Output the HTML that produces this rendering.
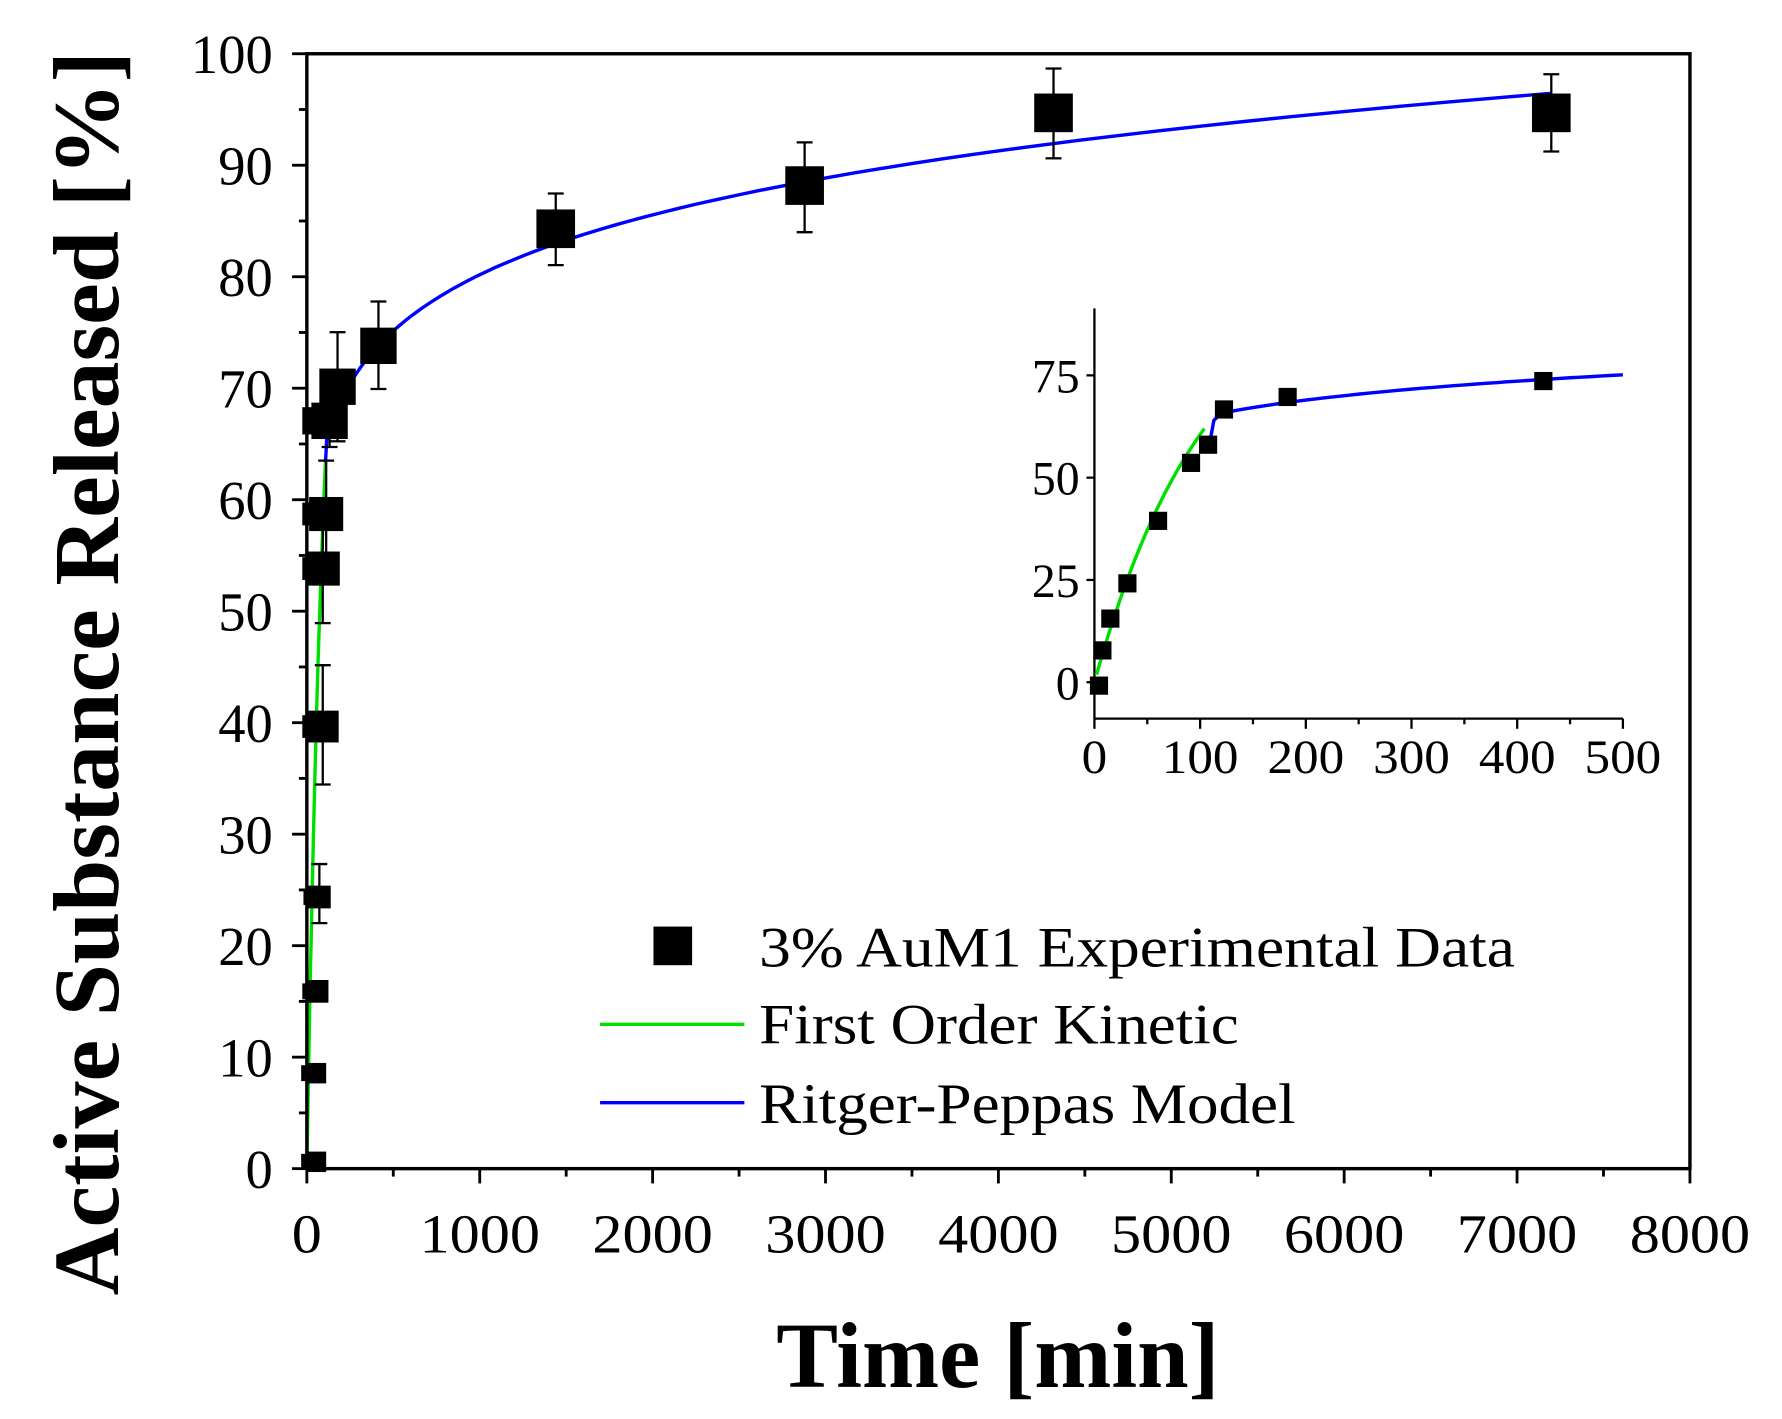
<!DOCTYPE html>
<html><head><meta charset="utf-8"><style>
html,body{margin:0;padding:0;background:#fff;}
svg{display:block;font-family:"Liberation Serif",serif;}
</style></head><body>
<svg id="s" width="1782" height="1419" viewBox="0 0 1568 1248" xmlns="http://www.w3.org/2000/svg">
<rect x="0" y="0" width="1568" height="1248" fill="#fff"/>
<g id="g"></g>
<rect x="270" y="47" width="1217" height="981" fill="none" stroke="#000" stroke-width="3"/>
<text transform="translate(104,592) rotate(-90)" text-anchor="middle" font-size="82" font-weight="bold" textLength="1095" lengthAdjust="spacingAndGlyphs">Active Substance Released [%]</text>
<text x="878" y="1220" text-anchor="middle" font-size="82" font-weight="bold" textLength="390" lengthAdjust="spacingAndGlyphs">Time [min]</text>
<rect x="575" y="815" width="34" height="34" fill="#000"/>
<text x="668" y="850" font-size="50" textLength="665" lengthAdjust="spacingAndGlyphs">3% AuM1 Experimental Data</text>
<line x1="528" y1="901" x2="655" y2="901" stroke="#00e000" stroke-width="3"/>
<text x="668" y="918" font-size="50" textLength="422" lengthAdjust="spacingAndGlyphs">First Order Kinetic</text>
<line x1="528" y1="970" x2="655" y2="970" stroke="#0000ff" stroke-width="3"/>
<text x="668" y="988" font-size="50" textLength="472" lengthAdjust="spacingAndGlyphs">Ritger-Peppas Model</text>
</svg>
<script>
var g=document.getElementById('g'),NS='http://www.w3.org/2000/svg';
function el(t,a,txt){var e=document.createElementNS(NS,t);for(var k in a)e.setAttribute(k,a[k]);if(txt!==undefined)e.textContent=txt;g.appendChild(e);return e;}
var X=function(t){return 270+t*(1217/8000)},Y=function(v){return 1028-v*9.81};
for(var v=0;v<=100;v+=5){var y=Y(v);el('line',{x1:v%10?263:257,y1:y,x2:270,y2:y,stroke:'#000','stroke-width':2.5});
 if(v%10==0)el('text',{x:240,y:y+17,'text-anchor':'end','font-size':48},v);}
for(var t=0;t<=8000;t+=500){var x=X(t);el('line',{x1:x,y1:1028,x2:x,y2:t%1000?1035:1041,stroke:'#000','stroke-width':2.5});
 if(t%1000==0)el('text',{x:x,y:1102,'text-anchor':'middle','font-size':48,textLength:(String(t).length*26.5),lengthAdjust:'spacingAndGlyphs'},t);}
function fo(t){return 100*(1-Math.exp(-0.0093*t));}
function rp(t){return 42*Math.pow(t,0.0936);}
var p='';for(var t=0;t<=108;t+=2)p+=(p?'L':'M')+X(t).toFixed(1)+','+Y(fo(t)).toFixed(1);
el('path',{d:p,fill:'none',stroke:'#00e000','stroke-width':3});
p='M'+X(108)+','+Y(fo(108));for(var t=115;t<=7200;t*=1.05)p+='L'+X(t).toFixed(1)+','+Y(rp(t)).toFixed(1);p+='L'+X(7200)+','+Y(rp(7200));
el('path',{d:p,fill:'none',stroke:'#0000ff','stroke-width':3});
var pts=[[278,1022,18],[272,1022,14],[278,944,18],[272,944,14],[279,872,20],[273,872,14],[281,789,20],[274,789,14],[284,639,28],[276,639,20],[284,500,30],[276,500,20],[287,452,30],[276,452,20],[290,370,32],[278,370,24],[297,340,32],[333,304,32],[489,201,34],[708,163,34],[927,99,34],[1365,99,34]];
var err=[[281,812,760],[284,690,585],[284,548,450],[287,500,405],[290,393,348],[297,388,292],[333,342,265],[489,233,170],[708,204,125],[927,139,60],[1365,133,65]];
err.forEach(function(e){el('line',{x1:e[0],y1:e[1],x2:e[0],y2:e[2],stroke:'#000','stroke-width':2});
 el('line',{x1:e[0]-7,y1:e[1],x2:e[0]+7,y2:e[1],stroke:'#000','stroke-width':2});el('line',{x1:e[0]-7,y1:e[2],x2:e[0]+7,y2:e[2],stroke:'#000','stroke-width':2});});
pts.forEach(function(q){el('rect',{x:q[0]-q[2]/2,y:q[1]-q[2]/2,width:q[2],height:q[2],fill:'#000'});});
var IX=function(t){return 963+t*0.93},IY=function(v){return 600-v*3.6};
el('line',{x1:963,y1:271,x2:963,y2:632,stroke:'#000','stroke-width':2});
el('line',{x1:963,y1:632,x2:1428,y2:632,stroke:'#000','stroke-width':2});
for(var v=0;v<=75;v+=25){el('line',{x1:956,y1:IY(v),x2:963,y2:IY(v),stroke:'#000','stroke-width':2});
 el('text',{x:950,y:IY(v)+15,'text-anchor':'end','font-size':42},v);}
for(var t=0;t<=500;t+=50){el('line',{x1:IX(t),y1:632,x2:IX(t),y2:t%100?637:641,stroke:'#000','stroke-width':2});
 if(t%100==0)el('text',{x:IX(t),y:680,'text-anchor':'middle','font-size':42,textLength:(String(t).length*22.5),lengthAdjust:'spacingAndGlyphs'},t);}
p='';for(var t=2;t<=105;t+=2)p+=(p?'L':'M')+IX(t).toFixed(1)+','+IY(fo(t)).toFixed(1);
el('path',{d:p,fill:'none',stroke:'#00e000','stroke-width':3});
p='M'+IX(108)+','+IY(57)+'L'+IX(113)+','+IY(64);for(var t=120;t<=500;t+=10)p+='L'+IX(t).toFixed(1)+','+IY(rp(t)).toFixed(1);
el('path',{d:p,fill:'none',stroke:'#0000ff','stroke-width':3});
var ip=[[967,603],[970,572],[977,544],[992,513],[1019,458],[1048,407],[1063,391],[1077,360],[1133,349],[1358,335]];
ip.forEach(function(q){el('rect',{x:q[0]-8,y:q[1]-8,width:16,height:16,fill:'#000'});});
</script>
</body></html>
